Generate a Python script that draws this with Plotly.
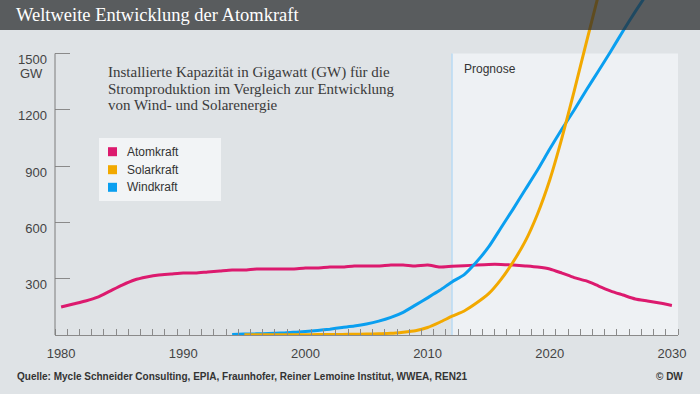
import plotly.graph_objects as go

# ---------------- data ----------------
years = list(range(1980, 2031))
atom = [149, 165, 181, 202, 234, 266, 293, 309, 320, 325,
        330, 330, 336, 341, 346, 346, 352, 352, 352, 352,
        357, 357, 362, 362, 368, 368, 368, 373, 373, 368,
        373, 362, 366, 369, 373, 376, 376, 373, 368, 362,
        352, 330, 306, 288, 261, 234, 213, 192, 181, 170, 157]

solar_years = list(range(1995, 2025))
solar = [1, 1, 1, 1, 1, 1, 2, 2, 3, 4,
         5, 7, 9, 15, 23, 40, 68, 100, 128, 170,
         220, 295, 389, 500, 645, 826, 1050, 1300, 1559, 1815]

wind_years = list(range(1994, 2029))
wind = [3, 5, 6, 8, 10, 14, 18, 24, 31, 40,
        48, 59, 74, 94, 121, 159, 198, 238, 283, 322,
        389, 469, 570, 671, 775, 879, 991, 1098, 1199, 1305,
        1408, 1512, 1620, 1723, 1822]

series_names = ["Atomkraft", "Solarkraft", "Windkraft"]
series_colors = ["#dc1a6e", "#f2a900", "#0a9ff0"]

y_ticks = [0, 300, 600, 900, 1200, 1500]
y_ticktext = ["", "300", "600", "900", "1200", "1500"]
x_ticks = [1980, 1990, 2000, 2010, 2020, 2030]
prognose_start = 2012

title = "Weltweite Entwicklung der Atomkraft"
subtitle_lines = ["Installierte Kapazität in Gigawatt (GW) für die",
                  "Stromproduktion im Vergleich zur Entwicklung",
                  "von Wind- und Solarenergie"]
source = "Quelle: Mycle Schneider Consulting, EPIA, Fraunhofer, Reiner Lemoine Institut, WWEA, REN21"

# ---------------- layout helpers ----------------
W, H = 700, 394
L, R, T, B = 55, 22, 0, 59
PW, PH = W - L - R, H - T - B


def px(x):
    return (x - L) / PW


def py(y):
    return 1 - (y - T) / PH


BG = "#dfe3e6"
SANS = "Liberation Sans, Arial, sans-serif"
SERIF = "Liberation Serif, Georgia, serif"

fig = go.Figure()
data = [(years, atom), (wind_years, wind), (solar_years, solar)]
order = [0, 2, 1]
for (xs, ys), idx in zip(data, order):
    fig.add_trace(go.Scatter(x=xs, y=ys, mode="lines", name=series_names[idx],
                             line=dict(color=series_colors[idx], width=3, shape="spline", smoothing=0.6),
                             showlegend=False, hoverinfo="skip"))

shapes = []
# Prognose area
shapes.append(dict(type="rect", xref="x", yref="y", x0=prognose_start, x1=2030.5, y0=0, y1=1500,
                   fillcolor="#eef1f4", line=dict(width=0), layer="below"))
shapes.append(dict(type="line", xref="x", yref="y", x0=prognose_start, x1=prognose_start, y0=0, y1=1500,
                   line=dict(color="#b9dbf3", width=1.5), layer="below"))
# y axis line
shapes.append(dict(type="line", xref="paper", yref="y", x0=0, x1=0, y0=0, y1=1500,
                   line=dict(color="#7d7d7d", width=1), layer="above"))
# header overlay
shapes.append(dict(type="rect", xref="paper", yref="paper", x0=px(0), x1=px(W), y0=py(30), y1=py(0),
                   fillcolor="rgba(40,41,44,0.73)", line=dict(width=0), layer="above"))
# legend box
shapes.append(dict(type="rect", xref="paper", yref="paper", x0=px(99), x1=px(221), y0=py(201), y1=py(138),
                   fillcolor="#f2f4f6", line=dict(width=0), layer="above"))

annotations = []
legend_rows = [151.7, 169.7, 187.3]
for name, color, yy in zip(series_names, series_colors, legend_rows):
    shapes.append(dict(type="rect", xref="paper", yref="paper", x0=px(108), x1=px(117),
                       y0=py(yy + 4.5), y1=py(yy - 4.5), fillcolor=color, line=dict(width=0), layer="above"))
    annotations.append(dict(text=name, xref="paper", yref="paper", x=px(125), y=py(yy),
                            xanchor="left", yanchor="middle", showarrow=False,
                            font=dict(family=SANS, size=12, color="#333333")))

annotations.append(dict(text=title, xref="paper", yref="paper", x=px(14), y=py(15),
                        xanchor="left", yanchor="middle", showarrow=False,
                        font=dict(family=SERIF, size=18.5, color="#ffffff")))
for i, line in enumerate(subtitle_lines):
    annotations.append(dict(text=line, xref="paper", yref="paper", x=px(106), y=py(72 + i * 16.7),
                            xanchor="left", yanchor="middle", showarrow=False,
                            font=dict(family=SERIF, size=15, color="#3a3a3a")))
annotations.append(dict(text="Prognose", xref="paper", yref="paper", x=px(462), y=py(69),
                        xanchor="left", yanchor="middle", showarrow=False,
                        font=dict(family=SANS, size=12, color="#333333")))
annotations.append(dict(text="GW", xref="paper", yref="paper", x=px(45), y=py(73),
                        xanchor="right", yanchor="middle", showarrow=False,
                        font=dict(family=SANS, size=13, color="#444444")))
annotations.append(dict(text="<b>" + source + "</b>", xref="paper", yref="paper", x=px(15), y=py(376),
                        xanchor="left", yanchor="middle", showarrow=False,
                        font=dict(family=SANS, size=10, color="#333333")))
annotations.append(dict(text="<b>© DW</b>", xref="paper", yref="paper", x=px(685), y=py(376),
                        xanchor="right", yanchor="middle", showarrow=False,
                        font=dict(family=SANS, size=10, color="#333333")))

fig.update_layout(
    width=W, height=H,
    margin=dict(l=L, r=R, t=T, b=B, pad=0),
    paper_bgcolor=BG, plot_bgcolor=BG,
    showlegend=False,
    shapes=shapes, annotations=annotations,
    xaxis=dict(range=[1979.5, 2030.5], tickvals=x_ticks, ticks="", showgrid=False, zeroline=False,
               showline=True, linecolor="#8a8a8a", linewidth=1,
               tickfont=dict(family=SANS, size=13, color="#444444"), ticklabelstandoff=6,
               minor=dict(ticks="inside", ticklen=6, tick0=1979.5, dtick=1, tickcolor="#8a8a8a",
                          tickwidth=1, showgrid=False)),
    yaxis=dict(range=[0, 1785], tickvals=y_ticks, ticktext=y_ticktext, ticks="inside", ticklen=15,
               tickcolor="#8a8a8a", tickwidth=1, showgrid=False, zeroline=False, showline=False,
               tickfont=dict(family=SANS, size=13, color="#444444"), ticklabelstandoff=7,
               ticklabelshift=6),
)

fig.write_html("out.html", config={"displayModeBar": False},
               post_script="document.body.style.margin='0';document.body.style.background='" + BG + "';")
